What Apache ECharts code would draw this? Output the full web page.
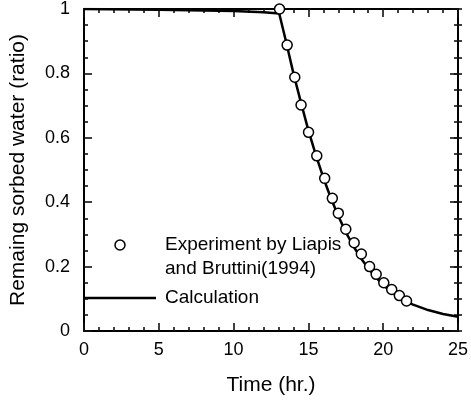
<!DOCTYPE html>
<html><head><meta charset="utf-8">
<script src="https://cdn.jsdelivr.net/npm/echarts@6/dist/echarts.min.js"></script>
<style>html,body{margin:0;padding:0;background:#fff}#c{width:471px;height:402px}</style>
</head><body><div id="c"></div>
<script>
var expTime = [13.07, 13.58, 14.09, 14.51, 15.01, 15.56, 16.09, 16.6, 17.0, 17.5, 18.06, 18.54, 19.09, 19.53, 20.04, 20.57, 21.08, 21.56];
var expRatio = [1.0, 0.888, 0.788, 0.702, 0.617, 0.544, 0.474, 0.412, 0.366, 0.316, 0.274, 0.239, 0.2, 0.176, 0.15, 0.129, 0.11, 0.093];
var calcTime = [0, 5, 10, 12, 13.05, 13.5, 14, 14.5, 15, 15.5, 16, 16.5, 17, 17.5, 18, 18.5, 19, 19.5, 20, 20.5, 21, 21.5, 22, 23, 24, 25];
var calcRatio = [1.0, 0.998, 0.994, 0.99, 0.986, 0.9, 0.8, 0.71, 0.623, 0.546, 0.476, 0.413, 0.357, 0.307, 0.264, 0.227, 0.195, 0.167, 0.143, 0.123, 0.106, 0.092, 0.082, 0.065, 0.053, 0.044];
var xTicks = [0, 5, 10, 15, 20, 25];
var yTicks = [0, 0.2, 0.4, 0.6, 0.8, 1];
var legendLabels = ['Experiment by Liapis', 'and Bruttini(1994)', 'Calculation'];

var FONT = 'Liberation Sans, Arial, sans-serif';
var TICK = '#111';
var chart = echarts.init(document.getElementById('c'), null, {renderer: 'canvas'});
function frameAxis(pos, min, max, interval, minorSplit) {
  return {
    type: 'value', position: pos, min: min, max: max, interval: interval,
    axisLine: {show: true, onZero: false, lineStyle: {color: '#000', width: 2}},
    axisTick: {show: true, inside: true, length: 8, lineStyle: {color: TICK, width: 1.6}},
    minorTick: {show: true, splitNumber: minorSplit, length: 4, lineStyle: {color: TICK, width: 1.6}},
    splitLine: {show: false},
    axisLabel: {show: false}
  };
}
var xB = frameAxis('bottom', xTicks[0], xTicks[xTicks.length - 1], 5, 5);
xB.axisLabel = {show: true, color: '#000', fontFamily: FONT, fontSize: 18, margin: 10};
xB.name = 'Time (hr.)'; xB.nameLocation = 'middle'; xB.nameGap = 44;
xB.nameTextStyle = {color: '#000', fontFamily: FONT, fontSize: 21};
var xT = frameAxis('top', 0, 25, 5, 5);
var yL = frameAxis('left', yTicks[0], yTicks[yTicks.length - 1], 0.2, 4);
yL.axisLabel = {show: true, color: '#000', fontFamily: FONT, fontSize: 18, margin: 14};
yL.name = 'Remaing sorbed water (ratio)'; yL.nameLocation = 'middle'; yL.nameGap = 55;
yL.nameTextStyle = {color: '#000', fontFamily: FONT, fontSize: 21};
var yR = frameAxis('right', 0, 1, 0.2, 4);
// extra left-type axis placed on the right edge (ticks pointing into the plot)
var yR2 = frameAxis('left', 0, 1, 0.2, 4);
yR2.offset = -378;
yR2.axisTick.inside = false;
yR2.axisLine.show = false;

var LFONT = '19px ' + FONT;
chart.setOption({
  animation: false,
  backgroundColor: '#fff',
  grid: {left: 83, right: 10, top: 9, bottom: 71},
  xAxis: [xB, xT],
  yAxis: [yL, yR, yR2],
  graphic: [
    {type: 'circle', shape: {cx: 120, cy: 245, r: 5}, style: {fill: '#fff', stroke: '#000', lineWidth: 1.5}, silent: true},
    {type: 'text', x: 165, y: 245, silent: true, style: {text: legendLabels[0], fill: '#000', font: LFONT, verticalAlign: 'middle'}},
    {type: 'text', x: 165, y: 269, silent: true, style: {text: legendLabels[1], fill: '#000', font: LFONT, verticalAlign: 'middle'}},
    {type: 'line', shape: {x1: 83, y1: 298, x2: 156, y2: 298}, style: {stroke: '#000', lineWidth: 2.5}, silent: true},
    {type: 'text', x: 165, y: 298, silent: true, style: {text: legendLabels[2], fill: '#000', font: LFONT, verticalAlign: 'middle'}}
  ],
  series: [{
    name: 'Calculation', type: 'line', xAxisIndex: 0, yAxisIndex: 0,
    data: calcTime.map(function (t, i) { return [t, calcRatio[i]]; }),
    showSymbol: false, symbol: 'none',
    lineStyle: {color: '#000', width: 2.5}, itemStyle: {color: '#000'}, z: 2
  }, {
    name: 'Experiment by Liapis and Bruttini(1994)', type: 'scatter', xAxisIndex: 0, yAxisIndex: 0,
    data: expTime.map(function (t, i) { return [t, expRatio[i]]; }),
    symbol: 'circle', symbolSize: 10,
    itemStyle: {color: '#fff', borderColor: '#000', borderWidth: 1.5, opacity: 1}, z: 3
  }, {
    type: 'line', xAxisIndex: 1, yAxisIndex: 1, data: [], showSymbol: false, silent: true
  }, {
    type: 'line', xAxisIndex: 0, yAxisIndex: 2, data: [], showSymbol: false, silent: true
  }]
});
</script></body></html>
